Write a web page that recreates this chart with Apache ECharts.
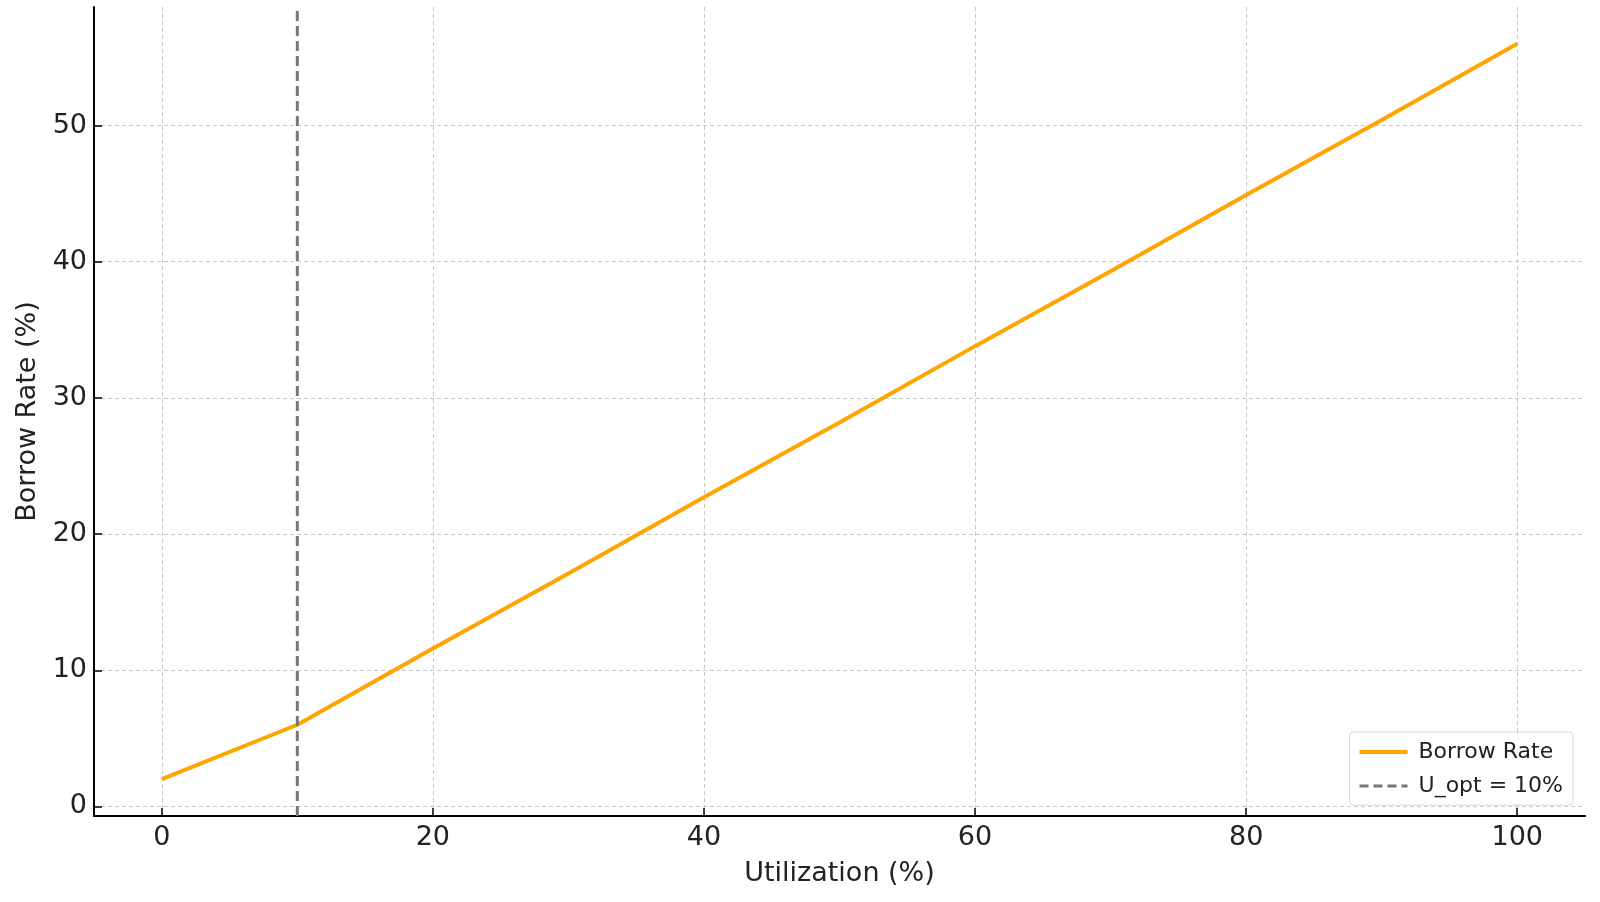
<!DOCTYPE html>
<html>
<head>
<meta charset="utf-8">
<script src="https://cdn.jsdelivr.net/npm/echarts@6/dist/echarts.min.js"></script>
<style>html,body{margin:0;padding:0;background:#fff}#c{width:1600px;height:902px}</style>
</head>
<body>
<div id="c"></div>
<script>
const utilization = [0, 10, 20, 30, 40, 50, 60, 70, 80, 90, 100];
const borrowRate = [2.0, 6.0, 11.6, 17.1, 22.7, 28.2, 33.8, 39.3, 44.9, 50.4, 56.0];
const uOpt = 10;
const xTicks = [0, 20, 40, 60, 80, 100];
const yTicks = [0, 10, 20, 30, 40, 50];
const xRange = [-5, 105];
const yRange = [-0.7, 58.7];

const font = 'DejaVu Sans';
const chart = echarts.init(document.getElementById('c'), null, {renderer: 'canvas'});
const gridLine = {show: true, lineStyle: {color: '#c8c8c8', type: [4, 3], width: 1}};
chart.setOption({
  animation: false,
  backgroundColor: '#fff',
  grid: {left: 94, right: 15, top: 7, bottom: 86, containLabel: false},
  legend: {
    right: 27, bottom: 97,
    orient: 'vertical',
    itemWidth: 48, itemHeight: 20, itemGap: 12,
    padding: [9, 10, 8, 8],
    backgroundColor: 'rgba(255,255,255,0.85)',
    borderColor: '#d6d6d6', borderWidth: 1, borderRadius: 4,
    itemStyle: {opacity: 0, borderWidth: 0},
    textStyle: {fontFamily: font, fontSize: 22, color: '#222', padding: [0, 0, 0, 6]},
    data: [
      {name: 'Borrow Rate', lineStyle: {width: 4, color: '#FFA500'}},
      {name: 'U_opt = 10%', lineStyle: {width: 3, color: '#777777', type: [9, 5]}}
    ]
  },
  xAxis: {
    type: 'value', min: xRange[0], max: xRange[1],
    name: 'Utilization (%)', nameLocation: 'middle', nameGap: 44,
    nameTextStyle: {fontFamily: font, fontSize: 27, color: '#222'},
    axisLine: {show: true, onZero: false, lineStyle: {color: '#000', width: 2}},
    axisTick: {show: true, inside: true, length: 8, customValues: xTicks, lineStyle: {color: '#000', width: 1.5}},
    axisLabel: {customValues: xTicks, margin: 8, fontFamily: font, fontSize: 27, color: '#222'},
    splitLine: gridLine
  },
  yAxis: {
    type: 'value', min: yRange[0], max: yRange[1],
    name: 'Borrow Rate (%)', nameLocation: 'middle', nameGap: 50, nameRotate: 90,
    nameTextStyle: {fontFamily: font, fontSize: 27, color: '#222'},
    axisLine: {show: true, onZero: false, lineStyle: {color: '#000', width: 2}},
    axisTick: {show: true, inside: true, length: 8, customValues: yTicks, lineStyle: {color: '#000', width: 1.5}},
    axisLabel: {customValues: yTicks, margin: 7, fontFamily: font, fontSize: 27, color: '#222'},
    splitLine: gridLine
  },
  series: [
    {
      name: 'Borrow Rate', type: 'line', symbol: 'none', z: 3,
      lineStyle: {color: '#FFA500', width: 4},
      itemStyle: {color: '#FFA500'},
      data: utilization.map((u, i) => [u, borrowRate[i]])
    },
    {
      name: 'U_opt = 10%', type: 'line', symbol: 'none', z: 4,
      lineStyle: {color: '#777777', width: 3, type: [10, 5]},
      itemStyle: {color: '#777777'},
      data: [[uOpt, yRange[0]], [uOpt, yRange[1]]]
    }
  ]
});
</script>
</body>
</html>
